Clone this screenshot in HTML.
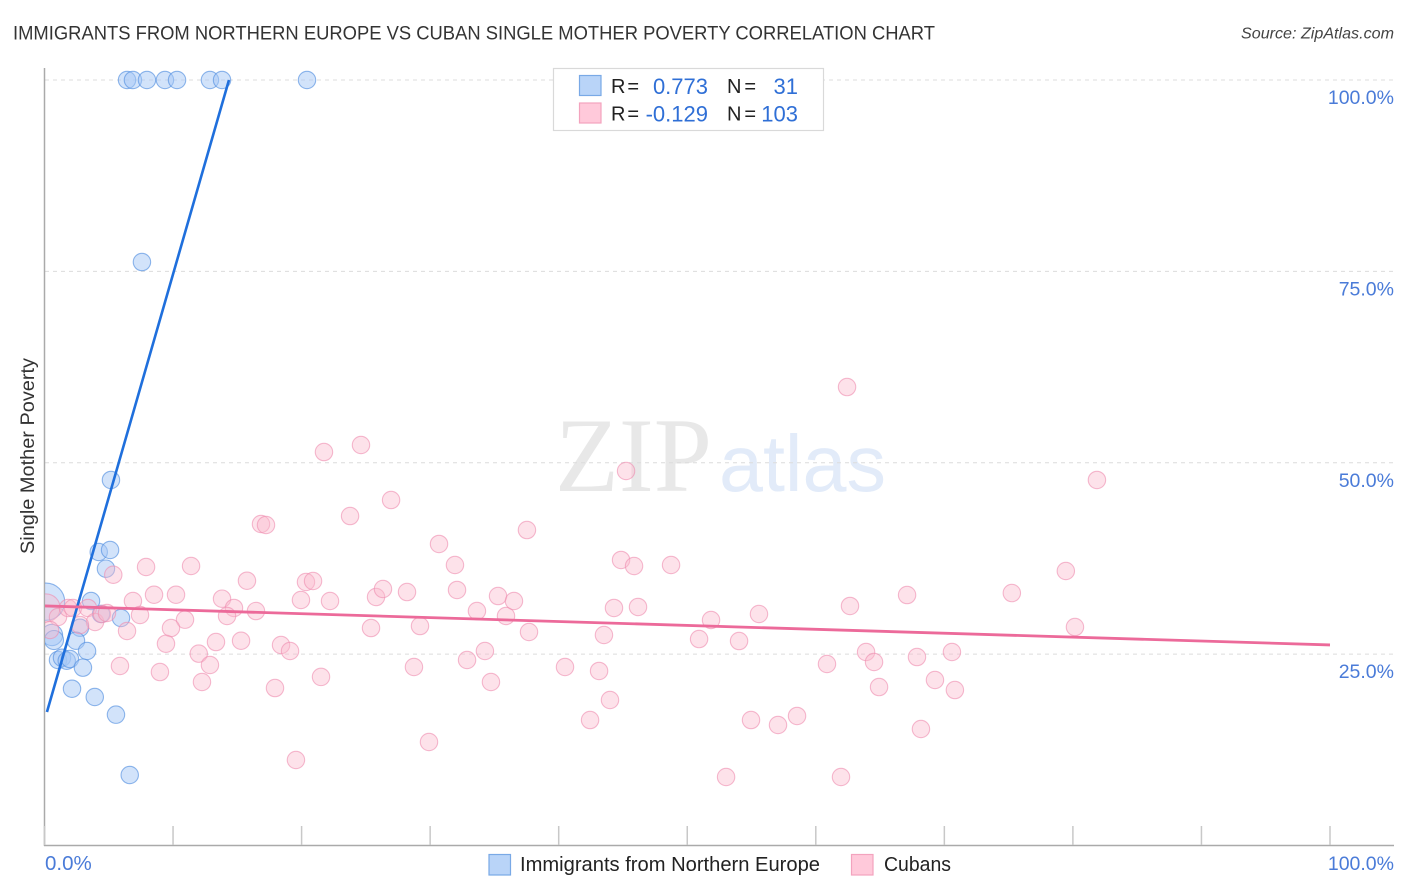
<!DOCTYPE html>
<html lang="en">
<head>
<meta charset="utf-8">
<title>Immigrants from Northern Europe vs Cuban Single Mother Poverty Correlation Chart</title>
<style>
html,body{margin:0;padding:0;background:#fff;width:1406px;height:892px;overflow:hidden}
svg{display:block;font-family:"Liberation Sans",sans-serif}
</style>
</head>
<body>
<svg id="chart" width="1406" height="892" viewBox="0 0 1406 892" xmlns="http://www.w3.org/2000/svg">
  <defs>
    <clipPath id="plot-clip"><rect x="45" y="60" width="1349" height="785"/></clipPath>
  </defs>
  <text x="13" y="39.5" font-size="19.5" fill="#333333" textLength="922" lengthAdjust="spacingAndGlyphs">IMMIGRANTS FROM NORTHERN EUROPE VS CUBAN SINGLE MOTHER POVERTY CORRELATION CHART</text>
  <text x="1394" y="38.5" font-size="16" font-style="italic" fill="#444" text-anchor="end" textLength="153" lengthAdjust="spacingAndGlyphs">Source: ZipAtlas.com</text>

  <g>
    <text x="555" y="491" font-family="'Liberation Serif',serif" font-size="106" fill="#e8e8e8" textLength="157" lengthAdjust="spacingAndGlyphs">ZIP</text>
    <text x="719" y="491" font-size="80" fill="#e2ebf9" textLength="167" lengthAdjust="spacingAndGlyphs">atlas</text>
  </g>

  <g id="grid"></g>
  <g id="axes">
    <line x1="44.5" y1="68" x2="44.5" y2="846" stroke="#aaaaaa" stroke-width="1.5"/>
    <line x1="44" y1="845.5" x2="1394" y2="845.5" stroke="#aaaaaa" stroke-width="1.5"/>
  </g>
  <g id="x-ticks"></g>
  <g id="y-labels"></g>
  <g id="x-labels"></g>
  <text transform="translate(34,456) rotate(-90)" font-size="19" fill="#333" text-anchor="middle" textLength="196" lengthAdjust="spacingAndGlyphs">Single Mother Poverty</text>

  <g id="marks" clip-path="url(#plot-clip)">
    <g id="blue-points"></g>
    <g id="pink-points"></g>
    <g id="fit-lines"></g>
  </g>

  <g>
    <rect x="553.5" y="68.5" width="270" height="62" fill="#fff" stroke="#d9d9d9" stroke-width="1.2"/>
    <rect x="579.5" y="75.5" width="21.5" height="20" fill="#b9d4f8" stroke="#79a9e6" stroke-width="1.2"/>
    <rect x="579.5" y="103" width="21.5" height="20" fill="#ffc9da" stroke="#f3a3be" stroke-width="1.2"/>
    <g font-size="20" fill="#222">
      <text x="611" y="93" textLength="28">R =</text>
      <text x="727" y="93" textLength="29">N =</text>
      <text x="611" y="120.5" textLength="28">R =</text>
      <text x="727" y="120.5" textLength="29">N =</text>
    </g>
    <g font-size="22" fill="#2f6fd6" text-anchor="end">
      <text x="708" y="94">0.773</text>
      <text x="798" y="94">31</text>
      <text x="708" y="121.5">-0.129</text>
      <text x="798" y="121.5">103</text>
    </g>
  </g>

  <g>
    <g>
      <rect x="489" y="854.5" width="21.5" height="20.5" fill="#b9d4f8" stroke="#79a9e6" stroke-width="1.2"/>
      <text x="520" y="871" font-size="20" fill="#222" textLength="300" lengthAdjust="spacingAndGlyphs">Immigrants from Northern Europe</text>
    </g>
    <g>
      <rect x="851.5" y="854.5" width="21.5" height="20.5" fill="#ffc9da" stroke="#f3a3be" stroke-width="1.2"/>
      <text x="884" y="871" font-size="20" fill="#222" textLength="67" lengthAdjust="spacingAndGlyphs">Cubans</text>
    </g>
  </g>
</svg>
<script>
const yTickValues = [100, 75, 50, 25];
const yTickLabels = ['100.0%', '75.0%', '50.0%', '25.0%'];
const xTickValues = [0, 10, 20, 30, 40, 50, 60, 70, 80, 90, 100];
const xEndValues = [0, 100];
const xEndLabels = ['0.0%', '100.0%'];

const blueX = [6.42,6.88,7.97,9.37,10.31,12.87,13.81,20.42,7.58,5.17,4.22,5.10,4.78,0.12,3.62,4.40,5.95,2.76,0.58,0.74,2.45,3.31,1.05,1.36,1.73,1.98,2.99,2.14,3.91,5.56,6.63];
const blueY = [100,100,100,100,100,100,100,100,76.22,47.75,38.34,38.60,36.16,31.85,31.94,30.24,29.72,28.45,27.50,26.84,26.75,25.41,24.23,24.53,24.14,24.36,23.23,20.48,19.40,17.09,9.21];
const blueWeight = [1,1,1,1,1,1,1,1,1,1,1,1,1,4.6,1,1,1,1,1.5,1.2,1,1,1,1,1,1,1,1,1,1,1];

const pinkX = [5.35,7.90,11.40,15.75,6.88,8.52,10.23,13.81,14.74,14.20,7.43,10.93,9.84,6.42,9.45,13.34,15.29,12.00,12.87,5.87,8.98,12.25,
  0.12,1.05,1.83,2.22,3.38,3.93,4.47,4.86,2.76,0.43,
  16.45,16.84,17.23,17.93,18.40,19.10,19.56,19.95,20.34,20.89,21.51,22.21,21.74,23.77,24.62,25.40,25.79,26.33,26.96,28.20,28.74,29.21,29.91,30.69,31.93,32.09,32.87,33.64,34.26,34.73,35.28,35.90,36.52,37.53,37.69,40.49,42.44,43.14,43.52,43.99,44.30,44.85,45.24,45.86,46.17,48.74,50.92,51.85,53.02,54.03,54.96,55.58,57.06,58.54,60.87,61.96,62.43,62.66,63.91,64.53,64.92,67.10,67.87,68.18,69.27,70.59,70.82,75.25,79.45,80.16,81.87];
const pinkY = [35.37,36.38,36.51,34.59,31.94,32.76,32.76,32.24,31.03,29.98,30.11,29.50,28.41,28.02,26.36,26.58,26.75,25.06,23.58,23.45,22.66,21.36,
  31.03,29.85,31.03,31.03,31.03,29.20,30.24,30.37,28.80,28.15,
  30.63,42.00,41.87,20.57,26.19,25.41,11.17,32.07,34.42,34.55,22.02,31.94,51.40,43.04,52.32,28.41,32.46,33.51,45.13,33.11,23.32,28.67,13.52,39.39,36.64,33.38,24.23,30.63,25.41,21.36,32.59,29.98,31.94,41.21,27.89,23.32,16.39,22.80,27.50,19.01,31.03,37.30,48.92,36.51,31.16,36.64,26.97,29.46,8.95,26.71,16.39,30.24,15.74,16.92,23.71,8.95,59.89,31.29,25.28,23.97,20.70,32.72,24.62,15.22,21.62,25.28,20.31,32.98,35.86,28.54,47.75];
const pinkLargeIndex = [22];
const pinkLargeWeight = [2.6];

const blueFitX = [0.19, 14.35];
const blueFitY = [17.44, 100];
const pinkFitX = [0, 100];
const pinkFitY = [31.3, 26.2];

const NS = 'http://www.w3.org/2000/svg';
function xScale(v) { return 44.5 + v * 12.855; }
function yScale(v) { return 845.5 - v * 7.655; }
function rScale(w) { return 8.7 * Math.sqrt(w); }
function make(tag, attrs) {
  const el = document.createElementNS(NS, tag);
  for (const k in attrs) el.setAttribute(k, attrs[k]);
  return el;
}

const grid = document.getElementById('grid');
const yLabels = document.getElementById('y-labels');
yTickValues.forEach(function (v, i) {
  const line = make('line', { x1: 45, x2: 1394, y1: yScale(v), y2: yScale(v), stroke: '#dcdcdc', 'stroke-width': 1, 'stroke-dasharray': '4 4' });
  
  
  grid.appendChild(line);
  const label = make('text', { x: 1394, y: yScale(v) + 24, 'font-size': 19.5, fill: '#4a7bd8', 'text-anchor': 'end' });
  
  
  label.textContent = yTickLabels[i];
  yLabels.appendChild(label);
});

const xTicks = document.getElementById('x-ticks');
xTickValues.forEach(function (v) {
  const tick = make('line', { x1: xScale(v), x2: xScale(v), y1: 826, y2: 845, stroke: '#c8c8c8', 'stroke-width': 1.5 });
  
  
  xTicks.appendChild(tick);
});

const xLabels = document.getElementById('x-labels');
xEndValues.forEach(function (v, i) {
  const label = make('text', { x: i === 0 ? xScale(v) + 0.5 : xScale(v) + 64, y: 870, 'font-size': i === 0 ? 20.5 : 19.5, fill: '#4a7bd8', 'text-anchor': i === 0 ? 'start' : 'end' });
  
  
  label.textContent = xEndLabels[i];
  xLabels.appendChild(label);
});

const bluePoints = document.getElementById('blue-points');
blueX.forEach(function (v, i) {
  const c = make('circle', { cx: xScale(v), cy: yScale(blueY[i]), r: rScale(blueWeight[i]), fill: 'rgba(165,200,245,0.5)', stroke: 'rgba(85,145,225,0.65)', 'stroke-width': 1.1 });
  
  
  bluePoints.appendChild(c);
});

const pinkPoints = document.getElementById('pink-points');
pinkX.forEach(function (v, i) {
  const li = pinkLargeIndex.indexOf(i);
  const w = li >= 0 ? pinkLargeWeight[li] : 1;
  const c = make('circle', { cx: xScale(v), cy: yScale(pinkY[i]), r: rScale(w), fill: 'rgba(250,185,205,0.42)', stroke: 'rgba(238,140,175,0.6)', 'stroke-width': 1.1 });
  
  
  pinkPoints.appendChild(c);
});

const fits = document.getElementById('fit-lines');
const blueLine = make('line', { x1: xScale(blueFitX[0]), y1: yScale(blueFitY[0]), x2: xScale(blueFitX[1]), y2: yScale(blueFitY[1]), stroke: '#1f6fdc', 'stroke-width': 2.6 });


fits.appendChild(blueLine);
const pinkLine = make('line', { x1: xScale(pinkFitX[0]), y1: yScale(pinkFitY[0]), x2: xScale(pinkFitX[1]), y2: yScale(pinkFitY[1]), stroke: '#ec6a9a', 'stroke-width': 2.8 });


fits.appendChild(pinkLine);
</script>
</body>
</html>
